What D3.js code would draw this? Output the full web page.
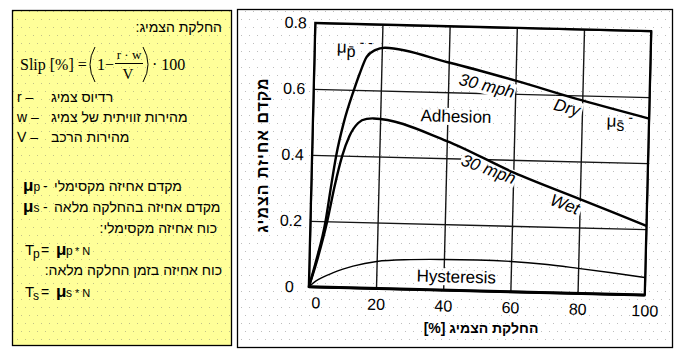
<!DOCTYPE html>
<html>
<head>
<meta charset="utf-8">
<script src="https://cdn.jsdelivr.net/npm/d3@7"></script>
<style>
  body { margin: 0; background: #fff; }
  svg { display: block; font-family: "Liberation Sans", Arial, sans-serif; }
</style>
</head>
<body>
<script>
// axis ticks
const slipTicks = [0, 20, 40, 60, 80, 100];
const muTicks = [0, 0.2, 0.4, 0.6, 0.8];

// friction coefficient vs slip [%]
const drySlip = [0, 2, 4.5, 5.8, 7.2, 9.2, 12, 13.6, 15.5, 18, 21, 40, 60, 80, 100];
const dryMu   = [0, 0.08, 0.2, 0.3, 0.4, 0.5, 0.6, 0.65, 0.7, 0.722, 0.73, 0.69, 0.64, 0.585, 0.535];
const wetSlip = [0, 2.5, 5, 7, 9, 11, 13.5, 16, 18, 40, 60, 80, 100];
const wetMu   = [0, 0.09, 0.2, 0.31, 0.4, 0.46, 0.5, 0.513, 0.515, 0.452, 0.362, 0.286, 0.21];
const hystSlip = [0, 2, 4, 7, 10, 13, 20, 30, 40, 50, 60, 70, 80, 90, 100];
const hystMu   = [0, 0.018, 0.03, 0.044, 0.056, 0.066, 0.082, 0.09, 0.093, 0.094, 0.092, 0.086, 0.076, 0.065, 0.053];

// labels inside the plot, placed in data units
const curveLabels = [
  { text: "Adhesion", slip: 32, mu: 0.51, angle: 0, italic: false, anchor: "start" },
  { text: "Hysteresis", slip: 32, mu: 0.024, angle: 0, italic: false, anchor: "start" },
  { text: "30 mph", slip: 51.5, mu: 0.622, angle: 12.5, italic: true, anchor: "middle" },
  { text: "Dry", slip: 75.5, mu: 0.562, angle: 14, italic: true, anchor: "middle" },
  { text: "30 mph", slip: 52.6, mu: 0.369, angle: 19, italic: true, anchor: "middle" },
  { text: "Wet", slip: 75.6, mu: 0.268, angle: 19, italic: true, anchor: "middle" }
];

const width = 680, height = 362;
const sans = '"Liberation Sans", Arial, sans-serif';
const serif = '"Liberation Serif", "Times New Roman", serif';

const svg = d3.select("body").append("svg")
  .attr("width", width)
  .attr("height", height);

const defs = svg.append("defs");
const addDots = (id, bg, dot) => {
  const p = defs.append("pattern").attr("id", id)
    .attr("patternUnits", "userSpaceOnUse")
    .attr("width", 8).attr("height", 16);
  p.append("rect").attr("width", 8).attr("height", 16).attr("fill", bg);
  p.append("rect").attr("x", 1).attr("y", 3).attr("width", 1).attr("height", 1).attr("fill", dot);
  p.append("rect").attr("x", 5).attr("y", 11).attr("width", 1).attr("height", 1).attr("fill", dot);
};
addDots("dots", "#ffffff", "#bdbdbd");
addDots("dotsY", "#ffff99", "#c2c286");

svg.append("rect").attr("width", width).attr("height", height).attr("fill", "#fff");

// ---------- left note box ----------
svg.append("rect")
  .attr("x", 12.5).attr("y", 10.5).attr("width", 219).attr("height", 335)
  .attr("fill", "url(#dotsY)").attr("stroke", "#000").attr("stroke-width", 1.3);

const box = svg.append("g").attr("font-family", sans).attr("font-size", 14).attr("fill", "#000");

const rtl = (x, y, str) => box.append("text")
  .attr("x", x).attr("y", y)
  .attr("direction", "rtl").style("direction", "rtl")
  .attr("text-anchor", "start")
  .text(str);

rtl(222, 32, "החלקת הצמיג:");

// slip formula
const f = box.append("g").attr("font-family", serif).attr("font-size", 16);
f.append("text").attr("x", 20).attr("y", 70).text("Slip [%] =");
f.append("path").attr("d", "M95,47 Q85,64.5 95,82").attr("fill", "none").attr("stroke", "#000").attr("stroke-width", 1);
f.append("text").attr("x", 97).attr("y", 70).text("1−");
f.append("text").attr("x", 129).attr("y", 59).attr("font-size", 13).attr("text-anchor", "middle").text("r · w");
f.append("line").attr("x1", 115).attr("x2", 143).attr("y1", 63.5).attr("y2", 63.5).attr("stroke", "#000");
f.append("text").attr("x", 128).attr("y", 79).attr("font-size", 15).attr("text-anchor", "middle").text("V");
f.append("path").attr("d", "M143,47 Q153,64.5 143,82").attr("fill", "none").attr("stroke", "#000").attr("stroke-width", 1);
f.append("text").attr("x", 152).attr("y", 70).text("· 100");

const defLine = (y, sym, str) => {
  const t = box.append("text").attr("y", y);
  t.append("tspan").attr("x", 17).text(sym + " –");
  t.append("tspan").attr("x", 51).text(str);
};
defLine(102, "r", "רדיוס צמיג");
defLine(122, "w", "מהירות זוויתית של צמיג");
defLine(142, "V", "מהירות הרכב");

const muLine = (y, sub, str) => {
  const t = box.append("text").attr("y", y);
  t.append("tspan").attr("x", 23).attr("font-size", 17).attr("font-weight", "bold").text("μ");
  t.append("tspan").attr("font-size", 12).text(sub);
  t.append("tspan").attr("x", 43).text("-");
  t.append("tspan").attr("x", 54).text(str);
};
muLine(191, "p", "מקדם אחיזה מקסימלי");
muLine(212, "s", "מקדם אחיזה בהחלקה מלאה");

rtl(217, 233, "כוח אחיזה מקסימלי:");
rtl(222, 275, "כוח אחיזה בזמן החלקה מלאה:");

const forceLine = (y, sub) => {
  const t = box.append("text").attr("y", y);
  t.append("tspan").attr("x", 25).attr("font-size", 15).text("T");
  t.append("tspan").attr("x", 33).attr("dy", 3).attr("font-size", 12).text(sub);
  t.append("tspan").attr("x", 41).attr("dy", -3).attr("font-size", 14).text("=");
  t.append("tspan").attr("x", 56).attr("font-size", 17).attr("font-weight", "bold").text("μ");
  t.append("tspan").attr("x", 66).attr("font-size", 12).text(sub);
  t.append("tspan").attr("x", 75).attr("font-size", 11).text("* N");
};
forceLine(255, "p");
forceLine(297, "s");

// ---------- right chart panel ----------
svg.append("rect")
  .attr("x", 237.5).attr("y", 9.5).attr("width", 435).attr("height", 338)
  .attr("fill", "url(#dots)").attr("stroke", "#000").attr("stroke-width", 1.3);

const x = d3.scaleLinear().domain([0, 100]).range([312, 648]);
const y = d3.scaleLinear().domain([0, 0.8]).range([291, 27]);

// the figure is a slightly tilted scan
const plot = svg.append("g").attr("transform", "rotate(1.4, 480, 159)");

plot.append("g")
  .attr("transform", `translate(0,${y(0)})`)
  .call(d3.axisBottom(x).tickValues(slipTicks).tickSize(-(y(0) - y(0.8))).tickPadding(10))
  .call(g => {
    g.attr("font-family", sans).attr("font-size", 16);
    g.select(".domain").remove();
    g.selectAll("line").attr("stroke", "#151515").attr("stroke-width", 1.4);
    g.selectAll("text").attr("fill", "#000").attr("dx", d => d === 0 ? 7 : 0);
  });

plot.append("g")
  .attr("transform", `translate(${x(0)},0)`)
  .call(d3.axisLeft(y).tickValues(muTicks).tickSize(-(x(100) - x(0))).tickFormat(d => d === 0 ? "0" : d3.format(".1f")(d)))
  .call(g => {
    g.attr("font-family", sans).attr("font-size", 16);
    g.select(".domain").remove();
    g.selectAll("line").attr("stroke", "#151515").attr("stroke-width", 1.4);
    g.selectAll("text").attr("fill", "#000").attr("x", -19.5).attr("text-anchor", "middle");
  });

plot.append("rect")
  .attr("x", x(0)).attr("y", y(0.8))
  .attr("width", x(100) - x(0)).attr("height", y(0) - y(0.8))
  .attr("fill", "none").attr("stroke", "#000").attr("stroke-width", 2.2);
plot.append("line")
  .attr("x1", x(0)).attr("x2", x(100)).attr("y1", y(0)).attr("y2", y(0))
  .attr("stroke", "#000").attr("stroke-width", 3);

// curve labels with a backing that hides the grid behind them
const labels = plot.append("g").attr("font-family", sans).attr("font-size", 17);
const labelGroups = labels.selectAll("g")
  .data(curveLabels)
  .enter()
  .append("g")
  .attr("transform", d => `translate(${x(d.slip)},${y(d.mu)}) rotate(${d.angle})`);
labelGroups.append("rect").attr("fill", "url(#dots)");
const labelText = labelGroups.append("text")
  .attr("text-anchor", d => d.anchor)
  .attr("dominant-baseline", d => d.anchor === "middle" ? "central" : null)
  .attr("font-style", d => d.italic ? "italic" : null)
  .text(d => d.text);
labelText.each(function () {
  const b = this.getBBox();
  d3.select(this.previousSibling)
    .attr("x", b.x - 1).attr("y", b.y + 1)
    .attr("width", b.width + 2).attr("height", b.height - 2);
});

const line = d3.line()
  .x(d => x(d[0]))
  .y(d => y(d[1]))
  .curve(d3.curveMonotoneX);

plot.append("path").datum(d3.zip(drySlip, dryMu))
  .attr("d", line).attr("fill", "none").attr("stroke", "#000").attr("stroke-width", 2.4);
plot.append("path").datum(d3.zip(wetSlip, wetMu))
  .attr("d", line).attr("fill", "none").attr("stroke", "#000").attr("stroke-width", 2.4);
plot.append("path").datum(d3.zip(hystSlip, hystMu))
  .attr("d", line).attr("fill", "none").attr("stroke", "#000").attr("stroke-width", 1.4);

// peak / sliding markers
const muP = plot.append("text").attr("font-family", sans).attr("font-size", 17)
  .attr("x", x(6.6)).attr("y", y(0.712));
muP.append("tspan").text("μ");
muP.append("tspan").attr("dy", 4).attr("font-size", 16).text("p\u0304");
muP.append("tspan").attr("dy", -10).attr("font-size", 14).text(" - -");

const muS = plot.append("text").attr("font-family", sans).attr("font-size", 17)
  .attr("x", x(87.4)).attr("y", y(0.508));
muS.append("tspan").text("μ");
muS.append("tspan").attr("dy", 4).attr("font-size", 16).text("s\u0304");
muS.append("tspan").attr("dy", -9).attr("font-size", 14).text(" -");

// axis titles (typed on the slide, not part of the scan)
svg.append("text")
  .attr("transform", "translate(262,155) rotate(-90)")
  .attr("direction", "rtl").style("direction", "rtl")
  .attr("text-anchor", "middle")
  .attr("dominant-baseline", "central")
  .attr("font-size", 16).attr("font-weight", "bold").attr("letter-spacing", 1)
  .text("מקדם אחיזת הצמיג");

svg.append("text")
  .attr("x", 481).attr("y", 333)
  .attr("direction", "rtl").style("direction", "rtl")
  .attr("text-anchor", "middle")
  .attr("font-size", 14).attr("font-weight", "bold")
  .text("החלקת הצמיג [%]");
</script>
</body>
</html>
